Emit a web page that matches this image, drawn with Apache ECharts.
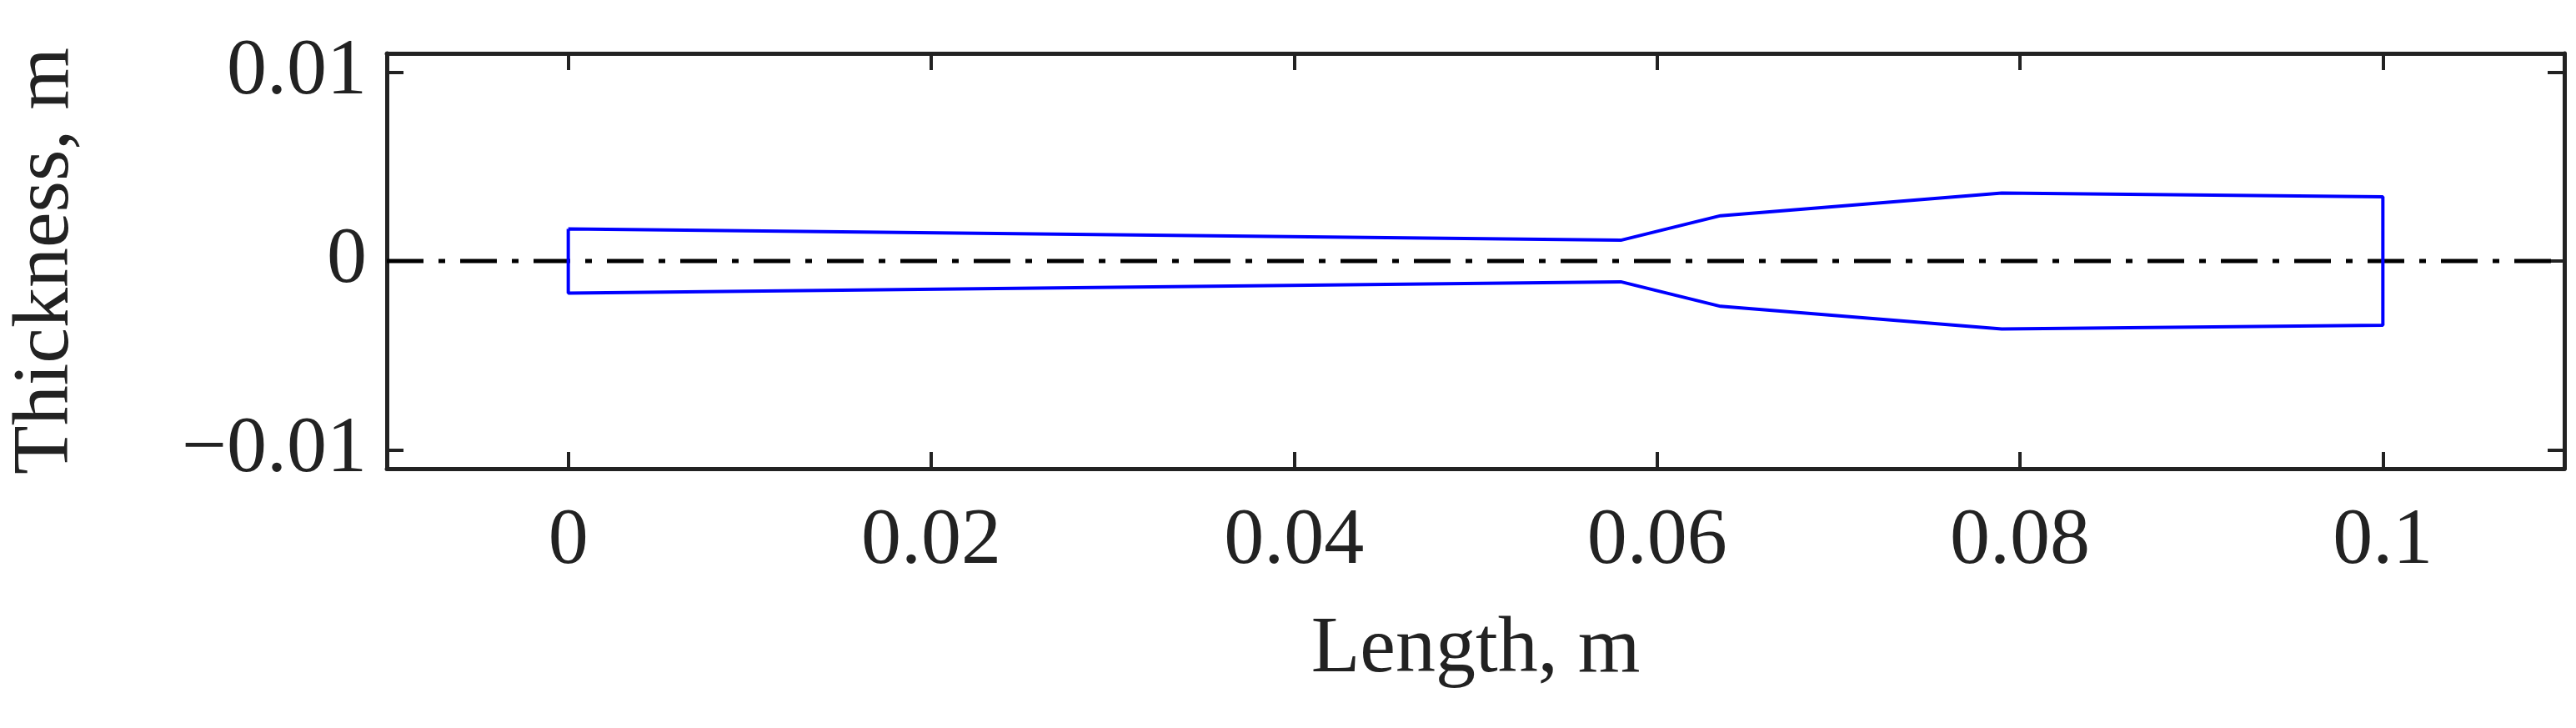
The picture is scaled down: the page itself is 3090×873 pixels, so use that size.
<!DOCTYPE html>
<html>
<head>
<meta charset="utf-8">
<script src="https://cdn.jsdelivr.net/npm/echarts@6/dist/echarts.min.js"></script>
<style>html,body{margin:0;padding:0;background:#fff}#chart{width:3090px;height:873px}</style>
</head>
<body>
<div id="chart"></div>
<script>
// outline of the profile (x in m, thickness in m)
const profileX = [0, 0.058, 0.0635, 0.079, 0.1, 0.1, 0.079, 0.0635, 0.058, 0, 0];
const profileY = [0.0017, 0.0011, 0.0024, 0.0036, 0.0034, -0.0034, -0.0036, -0.0024, -0.0011, -0.0017, 0.0017];
const centerX = [-0.01, 0.11];
const centerY = [0, 0];
const xTicks = [0, 0.02, 0.04, 0.06, 0.08, 0.1];
const yTicks = [-0.01, 0, 0.01];

let chart = echarts.init(document.getElementById("chart"));
const font = "Liberation Serif";
const axisLine = { show: true, onZero: false, lineStyle: { color: "#222", width: 5 } };
const tick = { show: true, inside: true, length: 20, lineStyle: { color: "#222", width: 4 } };

let options = {
    animation: false,
    grid: { left: 460, right: 14, top: 64, bottom: 311 },
    xAxis: [
        {
            type: "value", min: -0.01, max: 0.11,
            name: "Length, m", nameLocation: "middle", nameGap: 170,
            nameTextStyle: { fontFamily: font, fontSize: 96, color: "#222" },
            axisLine: axisLine, splitLine: { show: false },
            axisTick: Object.assign({ customValues: xTicks }, tick),
            axisLabel: {
                fontFamily: font, fontSize: 96, color: "#222", margin: 40,
                customValues: xTicks,
                formatter: (v) => String(+v.toFixed(2))
            }
        },
        {
            type: "value", position: "top", min: -0.01, max: 0.11,
            axisLine: axisLine, axisTick: Object.assign({ customValues: xTicks }, tick),
            axisLabel: { show: false }, splitLine: { show: false }
        }
    ],
    yAxis: [
        {
            type: "value", min: -0.011, max: 0.011,
            name: "Thickness, m", nameLocation: "middle", nameGap: 360,
            nameTextStyle: { fontFamily: font, fontSize: 96, color: "#222" },
            axisLine: axisLine, splitLine: { show: false },
            axisTick: Object.assign({ customValues: yTicks }, tick),
            axisLabel: {
                fontFamily: font, fontSize: 96, color: "#222", margin: 24,
                customValues: yTicks,
                formatter: (v) => (Math.abs(v) < 1e-9 ? "0" : v < 0 ? "\u22120.01" : "0.01")
            }
        },
        {
            type: "value", position: "right", min: -0.011, max: 0.011,
            axisLine: axisLine, splitLine: { show: false }, axisLabel: { show: false },
            axisTick: Object.assign({ customValues: yTicks }, tick)
        }
    ],
    series: [
        {
            type: "line", data: centerX.map((x, i) => [x, centerY[i]]),
            symbol: "none", lineStyle: { color: "#000", width: 5, type: [44, 18, 8, 18] }
        },
        {
            type: "line", data: profileX.map((x, i) => [x, profileY[i]]),
            symbol: "none", lineStyle: { color: "#0000ff", width: 4 }
        }
    ]
};
chart.setOption(options);
</script>
</body>
</html>
